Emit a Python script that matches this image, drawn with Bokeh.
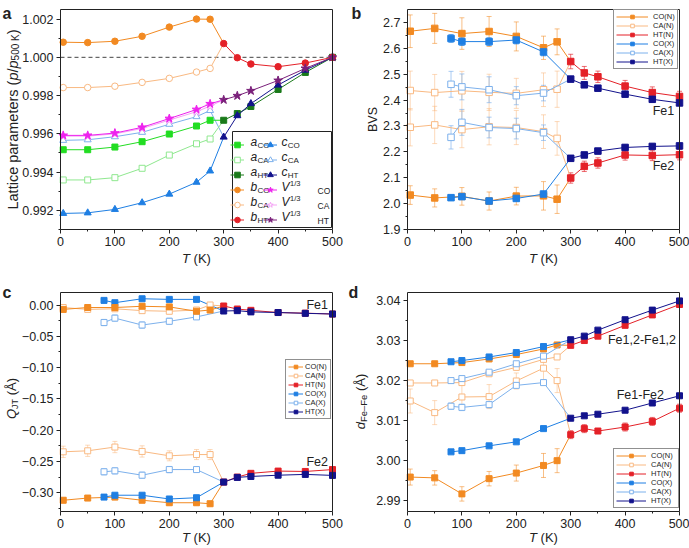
import math
from bokeh.plotting import figure
from bokeh.models import (Range1d, FixedTicker, CustomJSTickFormatter, Label, Legend, LegendItem,
                          Whisker, TeeHead, ColumnDataSource, LinearAxis, BoxAnnotation)
from bokeh.layouts import column, row
from bokeh.embed import file_html
from bokeh.resources import INLINE

# ---------------- data ----------------
T_LOW = [5, 50, 100, 150, 200, 250, 275]
T_X = [80, 100, 150, 200, 250]
T_HT = [300, 325, 350, 400, 450, 500]
XTICKS = [0, 100, 200, 300, 400, 500]
XMINOR = [50, 150, 250, 350, 450]
REF_LEVEL = 1.0

# panel a: lattice parameters (normalised to 500 K)
a_CO = [0.99517, 0.99517, 0.99531, 0.99559, 0.99599, 0.99641, 0.99671]
a_CA = [0.99359, 0.99359, 0.99371, 0.99420, 0.99489, 0.99548, 0.99573]
a_HT = [0.99671, 0.99706, 0.99743, 0.99832, 0.99921, 1.0]
b_CO = [1.00079, 1.00077, 1.00084, 1.00110, 1.00158, 1.00200, 1.00199]
b_CA = [0.99842, 0.99842, 0.99849, 0.99869, 0.99890, 0.99923, 0.99942]
b_HT = [1.00072, 0.99998, 0.99965, 0.99951, 0.99970, 1.0]
c_CO = [0.99184, 0.99187, 0.99205, 0.99240, 0.99285, 0.99347, 0.99406]
c_CA = [0.99566, 0.99569, 0.99585, 0.99608, 0.99650, 0.99690, 0.99722]
c_HT = [0.99583, 0.99695, 0.99758, 0.99855, 0.99933, 1.0]
V_CO = [0.99592, 0.99592, 0.99604, 0.99634, 0.99680, 0.99727, 0.99757]
V_CA = [0.99588, 0.99588, 0.99600, 0.99628, 0.99672, 0.99716, 0.99745]
V_HT = [0.99778, 0.99799, 0.99825, 0.99879, 0.99942, 1.0]
YT_A = [0.992, 0.994, 0.996, 0.998, 1.000, 1.002]
YM_A = [0.991, 0.993, 0.995, 0.997, 0.999, 1.001]

# panel b: BVS
bvs_CO_N_fe1 = [2.666, 2.677, 2.657, 2.665, 2.646, 2.602, 2.625]
bvs_CO_N_fe1_err = [0.063, 0.058, 0.061, 0.058, 0.056, 0.045, 0.05]
bvs_CA_N_fe1 = [2.437, 2.429, 2.436, 2.430, 2.426, 2.440, 2.442]
bvs_CA_N_fe1_err = [0.075, 0.07, 0.075, 0.07, 0.058, 0.065, 0.07]
bvs_CA_N_fe2 = [2.295, 2.304, 2.286, 2.297, 2.294, 2.278, 2.252]
bvs_CA_N_fe2_err = [0.072, 0.072, 0.07, 0.07, 0.066, 0.065, 0.065]
bvs_CO_N_fe2 = [2.033, 2.022, 2.028, 2.010, 2.029, 2.030, 2.017]
bvs_CO_N_fe2_err = [0.036, 0.035, 0.034, 0.035, 0.034, 0.055, 0.055]
bvs_CO_X_fe1 = [2.638, 2.626, 2.626, 2.632, 2.586]
bvs_CO_X_fe1_err = [0.015, 0.015, 0.015, 0.015, 0.015]
bvs_CA_X_fe1 = [2.461, 2.451, 2.440, 2.417, 2.427]
bvs_CA_X_fe1_err = [0.05, 0.05, 0.05, 0.035, 0.03]
bvs_CA_X_fe2 = [2.256, 2.314, 2.294, 2.290, 2.274]
bvs_CA_X_fe2_err = [0.045, 0.05, 0.04, 0.04, 0.03]
bvs_CO_X_fe2 = [2.023, 2.027, 2.010, 2.020, 2.037]
bvs_CO_X_fe2_err = [0.01, 0.01, 0.01, 0.01, 0.01]
bvs_HT_N_fe1 = [2.549, 2.505, 2.490, 2.454, 2.429, 2.414]
bvs_HT_N_fe1_err = [0.028, 0.025, 0.022, 0.022, 0.022, 0.02]
bvs_HT_X_fe1 = [2.481, 2.459, 2.446, 2.423, 2.403, 2.389]
bvs_HT_X_fe1_err = [0.01, 0.01, 0.01, 0.01, 0.01, 0.01]
bvs_HT_N_fe2 = [2.099, 2.144, 2.157, 2.188, 2.186, 2.189]
bvs_HT_N_fe2_err = [0.02, 0.02, 0.02, 0.02, 0.02, 0.02]
bvs_HT_X_fe2 = [2.175, 2.188, 2.203, 2.217, 2.221, 2.223]
bvs_HT_X_fe2_err = [0.01, 0.01, 0.01, 0.01, 0.01, 0.01]
YT_B = [1.9, 2.0, 2.1, 2.2, 2.3, 2.4, 2.5, 2.6, 2.7]
YM_B = [1.95, 2.05, 2.15, 2.25, 2.35, 2.45, 2.55, 2.65]

# panel c: Q_JT
q_CO_N_fe1 = [-0.007, -0.004, -0.004, -0.002, -0.003, -0.010, -0.008]
q_CA_N_fe1 = [-0.004, -0.007, -0.006, -0.009, -0.010, -0.008, 0.000]
q_CO_X_fe1 = [0.0074, 0.0037, 0.010, 0.009, 0.009]
q_CA_X_fe1 = [-0.028, -0.021, -0.032, -0.026, -0.019]
q_HT_N_fe1 = [-0.0016, -0.0064, -0.0085, -0.012, -0.013, -0.0144]
q_HT_X_fe1 = [-0.0096, -0.009, -0.011, -0.012, -0.0133, -0.0144]
q_CA_N_fe2 = [-0.2346, -0.233, -0.227, -0.234, -0.241, -0.239, -0.239]
q_CA_X_fe2 = [-0.2665, -0.265, -0.272, -0.263, -0.263]
q_CO_X_fe2 = [-0.307, -0.304, -0.304, -0.310, -0.308]
q_CO_N_fe2 = [-0.312, -0.3085, -0.307, -0.312, -0.316, -0.316, -0.3176]
q_HT_N_fe2 = [-0.283, -0.275, -0.269, -0.2654, -0.266, -0.263]
q_HT_X_fe2 = [-0.283, -0.2755, -0.274, -0.272, -0.2707, -0.2723]
q_err_N = [0.004, 0.004, 0.004, 0.004, 0.004, 0.004, 0.004]
q_err_CA_N2 = [0.009, 0.009, 0.009, 0.009, 0.008, 0.008, 0.008]
q_err_X = [0.005, 0.005, 0.005, 0.005, 0.004]
q_err_HT = [0.002, 0.002, 0.002, 0.002, 0.002, 0.002]
YT_C = [-0.30, -0.25, -0.20, -0.15, -0.10, -0.05, 0.00]
YM_C = [-0.325, -0.275, -0.225, -0.175, -0.125, -0.075, -0.025]

# panel d: Fe-Fe distances
d_CO_N_hi = [3.0242, 3.0242, 3.0245, 3.0254, 3.0265, 3.0279, 3.0289]
d_CO_X_hi = [3.0247, 3.0250, 3.0259, 3.0270, 3.0285]
d_CA_N_hi = [3.0194, 3.0194, 3.0195, 3.0217, 3.0233, 3.0253, 3.0259]
d_CA_X_hi = [3.0200, 3.0205, 3.0221, 3.0242, 3.0261]
d_CA_N_lo = [3.0149, 3.0120, 3.0159, 3.0160, 3.0199, 3.0231, 3.0200]
d_CA_N_lo_err = [0.003, 0.003, 0.003, 0.003, 0.002, 0.003, 0.003]
d_CA_X_lo = [3.0136, 3.0133, 3.0140, 3.0188, 3.0195]
d_CA_X_lo_err = [0.0008, 0.0008, 0.0008, 0.0005, 0.0005]
d_CO_X_lo = [3.0022, 3.0025, 3.0037, 3.0047, 3.0080]
d_CO_N_lo = [2.9959, 2.9957, 2.9917, 2.9955, 2.9969, 2.9988, 3.0000]
d_CO_N_lo_err = [0.002, 0.0018, 0.0018, 0.0018, 0.002, 0.003, 0.003]
d_HT_N_hi = [3.0288, 3.0300, 3.0311, 3.0338, 3.0364, 3.0390]
d_HT_X_hi = [3.0302, 3.0311, 3.0326, 3.0352, 3.0376, 3.0399]
d_HT_N_lo = [3.0065, 3.0080, 3.0074, 3.0084, 3.0098, 3.0131]
d_HT_N_lo_err = [0.001, 0.001, 0.0005, 0.001, 0.001, 0.001]
d_HT_X_lo = [3.0106, 3.0112, 3.0116, 3.0126, 3.0144, 3.0162]
YT_D = [2.99, 3.00, 3.01, 3.02, 3.03, 3.04]
YM_D = [2.995, 3.005, 3.015, 3.025, 3.035]

# ---------------- style ----------------
FONT = "Liberation Sans"
INK = "#222222"
ORANGE = "#F28A22"
LORANGE = "#F9B982"
RED = "#E42128"
BLUE = "#1F7FE3"
LBLUE = "#7DB1EC"
NAVY = "#12128C"
GREEN = "#22DD22"
LGREEN = "#8FE88F"
DGREEN = "#1A7A1A"
MAGENTA = "#EE22EE"
LMAGENTA = "#F5A3F5"
PURPLE = "#7A207A"

AW = {' ': 278, '(': 333, ')': 333, '/': 278, ',': 278, '-': 333, '\u2013': 556,
      'A': 667, 'B': 667, 'C': 722, 'F': 611, 'H': 722, 'J': 500, 'K': 667, 'L': 556,
      'N': 722, 'O': 778, 'Q': 778, 'S': 667, 'T': 611, 'V': 667, '\u00c5': 667,
      'a': 556, 'b': 556, 'c': 500, 'd': 556, 'e': 556, 'i': 222, 'm': 833, 'p': 556,
      'r': 333, 's': 500, 't': 278}


def tw(s, size):
    return sum(AW.get(ch, 556) for ch in s) * size / 1000.0


def lab(p, x, y, text, size, style="normal", align="left", baseline="middle", angle=0.0,
        units="screen", color=INK, level="annotation"):
    p.add_layout(Label(x=x, y=y, x_units=units, y_units=units, text=text, text_font=FONT,
                       text_font_size=f"{size}px", text_font_style=style, text_color=color,
                       text_align=align, text_baseline=baseline, angle=angle, level=level))


def vlabel(p, x, yc, pieces):
    total = sum(tw(t, s) for t, s, _, _ in pieces)
    y = yc - total / 2
    for t, s, st, dx in pieces:
        core = t.lstrip(" ")
        lead = tw(t[:len(t) - len(core)], s)
        lab(p, x + dx, y + lead, core, s, st, angle=math.pi / 2)
        y += tw(t, s)


def hlabel(p, xc, y, pieces):
    total = sum(tw(t, s) for t, s, _, _ in pieces)
    x = xc - total / 2
    for t, s, st, dy in pieces:
        core = t.lstrip(" ")
        lead = tw(t[:len(t) - len(core)], s)
        lab(p, x + lead, y + dy, core, s, st)
        x += tw(t, s)


def style_axis(ax):
    ax.axis_line_color = INK
    ax.major_tick_line_color = INK
    ax.minor_tick_line_color = INK
    ax.major_tick_in = 0
    ax.major_tick_out = 4
    ax.minor_tick_in = 0
    ax.minor_tick_out = 2
    ax.major_label_text_font = FONT
    ax.major_label_text_font_size = "12.5px"
    ax.major_label_text_color = INK
    ax.major_label_standoff = 3


def make_fig(W, H, L, R, T, B, ylo, yhi, yt, ym, dec):
    """Canvas W x H; data rectangle at pixels [L, R] x [T, B] (from top-left)."""
    x0, x1 = XTICKS[0], XTICKS[-1]
    sx = (R - L) / (x1 - x0)
    sy = (B - T) / (yhi - ylo)
    xr = Range1d(x0 - L / sx, x1 + (W - R) / sx)
    yr = Range1d(ylo - (H - B) / sy, yhi + T / sy)
    p = figure(width=W, height=H, x_range=xr, y_range=yr, min_border_left=0, min_border_right=0,
               min_border_top=0, min_border_bottom=0, output_backend="svg", toolbar_location=None)
    p.outline_line_color = None
    p.grid.visible = False
    xa, ya = p.xaxis[0], p.yaxis[0]
    xa.fixed_location = ylo
    xa.bounds = (x0, x1)
    ya.fixed_location = x0
    ya.bounds = (ylo, yhi)
    xa.ticker = FixedTicker(ticks=XTICKS, minor_ticks=XMINOR)
    ya.ticker = FixedTicker(ticks=yt, minor_ticks=ym)
    ya.formatter = CustomJSTickFormatter(
        code=f"return (tick < -1e-9 ? '\\u2212' : '') + Math.abs(tick).toFixed({dec});")
    style_axis(xa)
    style_axis(ya)
    top = LinearAxis(fixed_location=yhi, bounds=(x0, x1), ticker=FixedTicker(ticks=[], minor_ticks=[]),
                     axis_line_color=INK, major_tick_line_color=None, minor_tick_line_color=None,
                     major_label_text_font_size="0px")
    right = LinearAxis(fixed_location=x1, bounds=(ylo, yhi), ticker=FixedTicker(ticks=[], minor_ticks=[]),
                       axis_line_color=INK, major_tick_line_color=None, minor_tick_line_color=None,
                       major_label_text_font_size="0px")
    p.add_layout(top, "above")
    p.add_layout(right, "right")
    return p


def series(p, xs, ys, color, marker, filled, size, nx=None, ny=None, err=None, ealpha=0.65):
    if err is not None:
        src = ColumnDataSource(dict(x=list(xs), lo=[y - e for y, e in zip(ys, err)],
                                    hi=[y + e for y, e in zip(ys, err)]))
        p.add_layout(Whisker(source=src, base="x", lower="lo", upper="hi", line_color=color,
                             line_alpha=ealpha, line_width=1,
                             lower_head=TeeHead(size=5, line_color=color, line_alpha=ealpha, line_width=1),
                             upper_head=TeeHead(size=5, line_color=color, line_alpha=ealpha, line_width=1)))
    lx = list(xs) + ([nx] if nx is not None else [])
    ly = list(ys) + ([ny] if ny is not None else [])
    ln = p.line(lx, ly, line_color=color, line_width=1)
    sc = p.scatter(list(xs), list(ys), marker=marker, size=size, line_color=color,
                   fill_color=color if filled else "white", line_width=1)
    return [ln, sc]


H1, H2 = 270, 276

# ---------------- panel a ----------------
pa = make_fig(345, H1, 60, 332, 9, 229, 0.991, 1.0025, YT_A, YM_A, 3)
pa.line([XTICKS[0], XTICKS[-1]], [REF_LEVEL, REF_LEVEL], line_color="#444444", line_dash="4 3", line_width=1)
rA = {}
rA["cCO"] = series(pa, T_LOW, c_CO, BLUE, "triangle", True, 7, T_HT[0], c_HT[0])
rA["cCA"] = series(pa, T_LOW, c_CA, LBLUE, "triangle", False, 7, T_HT[0], c_HT[0])
rA["aCA"] = series(pa, T_LOW, a_CA, LGREEN, "square", False, 6, T_HT[0], a_HT[0])
rA["aCO"] = series(pa, T_LOW, a_CO, GREEN, "square", True, 6, T_HT[0], a_HT[0])
rA["bCA"] = series(pa, T_LOW, b_CA, LORANGE, "circle", False, 6.5, T_HT[0], b_HT[0])
rA["bCO"] = series(pa, T_LOW, b_CO, ORANGE, "circle", True, 6.5, T_HT[0], b_HT[0])
rA["VCA"] = series(pa, T_LOW, V_CA, LMAGENTA, "star", False, 9, T_HT[0], V_HT[0])
rA["VCO"] = series(pa, T_LOW, V_CO, MAGENTA, "star", True, 9, T_HT[0], V_HT[0])
rA["aHT"] = series(pa, T_HT, a_HT, DGREEN, "square", True, 6)
rA["cHT"] = series(pa, T_HT, c_HT, NAVY, "triangle", True, 7)
rA["bHT"] = series(pa, T_HT, b_HT, RED, "circle", True, 6.5)
rA["VHT"] = series(pa, T_HT, V_HT, PURPLE, "star", True, 9)

# legend of panel a: white box, then texts, then transparent legends with the glyphs
pa.add_layout(BoxAnnotation(left=232, right=331, top=H1 - 131, bottom=H1 - 227,
                            left_units="screen", right_units="screen", top_units="screen",
                            bottom_units="screen", fill_color="white", fill_alpha=1.0,
                            line_color=INK, line_width=1, line_alpha=1.0))
col1 = ["aCO", "aCA", "aHT", "bCO", "bCA", "bHT"]
col2 = ["cCO", "cCA", "cHT", "VCO", "VCA", "VHT"]
for i, k in enumerate(col1):
    ry = H1 - (141.5 + 15 * i)
    lab(pa, 250, ry, k[0], 12, "italic")
    lab(pa, 250 + tw(k[0], 12) + 0.3, ry - 3.5, k[1:], 8)
for i, k in enumerate(col2):
    ry = H1 - (141.5 + 15 * i)
    lab(pa, 281, ry, k[0], 12, "italic")
    if k[0] == "V":
        lab(pa, 281 + tw("V", 12) + 0.5, ry + 4, "1/3", 7.5)
        lab(pa, 317, ry - 3.5, k[1:], 8.5)
    else:
        lab(pa, 281 + tw(k[0], 12) + 0.3, ry - 3.5, k[1:], 8)
for cols, lx in ((col1, 230), (col2, 263)):
    pa.add_layout(Legend(items=[LegendItem(label=" ", renderers=rA[k]) for k in cols],
                         location=(lx, H1 - 227), glyph_width=14, glyph_height=15, label_height=15,
                         label_width=10, label_standoff=3, spacing=0, padding=3, margin=0,
                         label_text_font_size="6px", border_line_color=None,
                         background_fill_alpha=0.0))

vlabel(pa, 12, H1 - 119, [("Lattice parameters (", 14.5, "normal", 0), ("p", 14.5, "italic", 0),
                          ("/", 14.5, "normal", 0), ("p", 14.5, "italic", 0), ("500 K", 10, "normal", 3),
                          (")", 14.5, "normal", 0)])
hlabel(pa, 196, H1 - 258, [("T", 13, "italic", 0), (" (K)", 13, "normal", 0)])
lab(pa, 2, H1 - 13, "a", 16, "bold", baseline="alphabetic")

# ---------------- panel b ----------------
pb = make_fig(344, H1, 62, 334, 9, 229, 1.9, 2.75, YT_B, YM_B, 1)
series(pb, T_LOW, bvs_CA_N_fe2, LORANGE, "square", False, 6.5, T_HT[0], bvs_HT_N_fe2[0], bvs_CA_N_fe2_err, 0.55)
series(pb, T_LOW, bvs_CO_N_fe2, ORANGE, "square", True, 6.5, T_HT[0], bvs_HT_N_fe2[0], bvs_CO_N_fe2_err, 0.55)
rB_CA_N = series(pb, T_LOW, bvs_CA_N_fe1, LORANGE, "square", False, 6.5, T_HT[0], bvs_HT_N_fe1[0], bvs_CA_N_fe1_err, 0.55)
rB_CO_N = series(pb, T_LOW, bvs_CO_N_fe1, ORANGE, "square", True, 6.5, T_HT[0], bvs_HT_N_fe1[0], bvs_CO_N_fe1_err, 0.55)
series(pb, T_X, bvs_CA_X_fe2, LBLUE, "square", False, 6.5, T_HT[0], bvs_HT_X_fe2[0], bvs_CA_X_fe2_err)
series(pb, T_X, bvs_CO_X_fe2, BLUE, "square", True, 6.5, T_HT[0], bvs_HT_X_fe2[0], bvs_CO_X_fe2_err)
rB_CA_X = series(pb, T_X, bvs_CA_X_fe1, LBLUE, "square", False, 6.5, T_HT[0], bvs_HT_X_fe1[0], bvs_CA_X_fe1_err)
rB_CO_X = series(pb, T_X, bvs_CO_X_fe1, BLUE, "square", True, 6.5, T_HT[0], bvs_HT_X_fe1[0], bvs_CO_X_fe1_err)
series(pb, T_HT, bvs_HT_N_fe2, RED, "square", True, 6.5, err=bvs_HT_N_fe2_err)
series(pb, T_HT, bvs_HT_X_fe2, NAVY, "square", True, 6.5, err=bvs_HT_X_fe2_err)
rB_HT_N = series(pb, T_HT, bvs_HT_N_fe1, RED, "square", True, 6.5, err=bvs_HT_N_fe1_err)
rB_HT_X = series(pb, T_HT, bvs_HT_X_fe1, NAVY, "square", True, 6.5, err=bvs_HT_X_fe1_err)

NAMES = ["CO(N)", "CA(N)", "HT(N)", "CO(X)", "CA(X)", "HT(X)"]


def small_legend(p, rends, loc, gw, standoff, lw, gh=9):
    leg = Legend(items=[LegendItem(label=n, renderers=r) for n, r in zip(NAMES, rends)],
                 location=loc, glyph_width=gw, glyph_height=gh, label_height=gh, label_width=lw,
                 label_standoff=standoff, spacing=0, padding=2, margin=0,
                 label_text_font=FONT, label_text_font_size="7.5px", label_text_color=INK,
                 border_line_color=INK, border_line_width=1, background_fill_color="white",
                 background_fill_alpha=1.0)
    p.add_layout(leg)


small_legend(pb, [rB_CO_N, rB_CA_N, rB_HT_N, rB_CO_X, rB_CA_X, rB_HT_X], (268, H1 - 69), 32, 5, 21)
lab(pb, 470.6, 2.357, "Fe1", 12.5, align="center", units="data")
lab(pb, 470.6, 2.146, "Fe2", 12.5, align="center", units="data")
vlabel(pb, 27, H1 - 119, [("BVS", 12.5, "normal", 0)])
hlabel(pb, 198, H1 - 258, [("T", 13, "italic", 0), (" (K)", 13, "normal", 0)])
lab(pb, 6, H1 - 13, "b", 16, "bold", baseline="alphabetic")

# ---------------- panel c ----------------
pc = make_fig(345, H2, 60, 332, 22, 241, -0.33, 0.02, YT_C, YM_C, 2)
series(pc, T_LOW, q_CA_N_fe2, LORANGE, "square", False, 6, T_HT[0], q_HT_N_fe2[0], q_err_CA_N2, 0.55)
series(pc, T_LOW, q_CO_N_fe2, ORANGE, "square", True, 6, T_HT[0], q_HT_N_fe2[0], q_err_N, 0.55)
series(pc, T_X, q_CA_X_fe2, LBLUE, "square", False, 6, T_HT[0], q_HT_X_fe2[0], q_err_X)
series(pc, T_X, q_CO_X_fe2, BLUE, "square", True, 6, T_HT[0], q_HT_X_fe2[0])
rC_CA_X = series(pc, T_X, q_CA_X_fe1, LBLUE, "square", False, 6, T_HT[0], q_HT_X_fe1[0], q_err_X)
rC_CO_X = series(pc, T_X, q_CO_X_fe1, BLUE, "square", True, 6, T_HT[0], q_HT_X_fe1[0])
rC_CA_N = series(pc, T_LOW, q_CA_N_fe1, LORANGE, "square", False, 6, T_HT[0], q_HT_N_fe1[0], q_err_N, 0.55)
rC_CO_N = series(pc, T_LOW, q_CO_N_fe1, ORANGE, "square", True, 6, T_HT[0], q_HT_N_fe1[0], q_err_N, 0.55)
series(pc, T_HT, q_HT_N_fe2, RED, "square", True, 6, err=q_err_HT)
series(pc, T_HT, q_HT_X_fe2, NAVY, "square", True, 6)
rC_HT_N = series(pc, T_HT, q_HT_N_fe1, RED, "square", True, 6, err=q_err_HT)
rC_HT_X = series(pc, T_HT, q_HT_X_fe1, NAVY, "square", True, 6)
small_legend(pc, [rC_CO_N, rC_CA_N, rC_HT_N, rC_CO_X, rC_CA_X, rC_HT_X], (285, H2 - 149), 15, 2, 23)
lab(pc, 471.8, 0.0, "Fe1", 12.5, align="center", units="data")
lab(pc, 471.8, -0.2505, "Fe2", 12.5, align="center", units="data")
vlabel(pc, 11, H2 - 128, [("Q", 13, "italic", 0), ("JT", 9, "normal", 3), (" (\u00c5)", 13, "normal", 0)])
hlabel(pc, 196, H2 - 267, [("T", 13, "italic", 0), (" (K)", 13, "normal", 0)])
lab(pc, 2, H2 - 22, "c", 16, "bold", baseline="alphabetic")

# ---------------- panel d ----------------
pd = make_fig(344, H2, 62, 334, 22, 241, 2.9873, 3.042, YT_D, YM_D, 2)
series(pd, T_LOW, d_CA_N_lo, LORANGE, "square", False, 6, T_HT[0], d_HT_N_lo[0], d_CA_N_lo_err, 0.55)
series(pd, T_LOW, d_CO_N_lo, ORANGE, "square", True, 6, T_HT[0], d_HT_N_lo[0], d_CO_N_lo_err, 0.55)
series(pd, T_X, d_CA_X_lo, LBLUE, "square", False, 6, T_HT[0], d_HT_X_lo[0], d_CA_X_lo_err)
series(pd, T_X, d_CO_X_lo, BLUE, "square", True, 6, T_HT[0], d_HT_X_lo[0])
rD_CA_N = series(pd, T_LOW, d_CA_N_hi, LORANGE, "square", False, 6, T_HT[0], d_HT_N_hi[0])
rD_CO_N = series(pd, T_LOW, d_CO_N_hi, ORANGE, "square", True, 6, T_HT[0], d_HT_N_hi[0])
rD_CA_X = series(pd, T_X, d_CA_X_hi, LBLUE, "square", False, 6, T_HT[0], d_HT_X_hi[0])
rD_CO_X = series(pd, T_X, d_CO_X_hi, BLUE, "square", True, 6, T_HT[0], d_HT_X_hi[0])
series(pd, T_HT, d_HT_N_lo, RED, "square", True, 6, err=d_HT_N_lo_err)
series(pd, T_HT, d_HT_X_lo, NAVY, "square", True, 6)
rD_HT_N = series(pd, T_HT, d_HT_N_hi, RED, "square", True, 6)
rD_HT_X = series(pd, T_HT, d_HT_X_hi, NAVY, "square", True, 6)
small_legend(pd, [rD_CO_N, rD_CA_N, rD_HT_N, rD_CO_X, rD_CA_X, rD_HT_X], (268, H2 - 238), 30, 5, 25)
lab(pd, 431, 3.0301, "Fe1,2-Fe1,2", 12.5, align="center", units="data")
lab(pd, 428, 3.0163, "Fe1-Fe2", 12.5, align="center", units="data")
vlabel(pd, 15, H2 - 131, [("d", 13, "italic", 0), ("Fe\u2013Fe", 9.5, "normal", 3), (" (\u00c5)", 13, "normal", 0)])
hlabel(pd, 198, H2 - 267, [("T", 13, "italic", 0), (" (K)", 13, "normal", 0)])
lab(pd, 3, H2 - 22, "d", 16, "bold", baseline="alphabetic")

layout = column(row(pa, pb), row(pc, pd))
open("out.html", "w").write(file_html(layout, INLINE))
